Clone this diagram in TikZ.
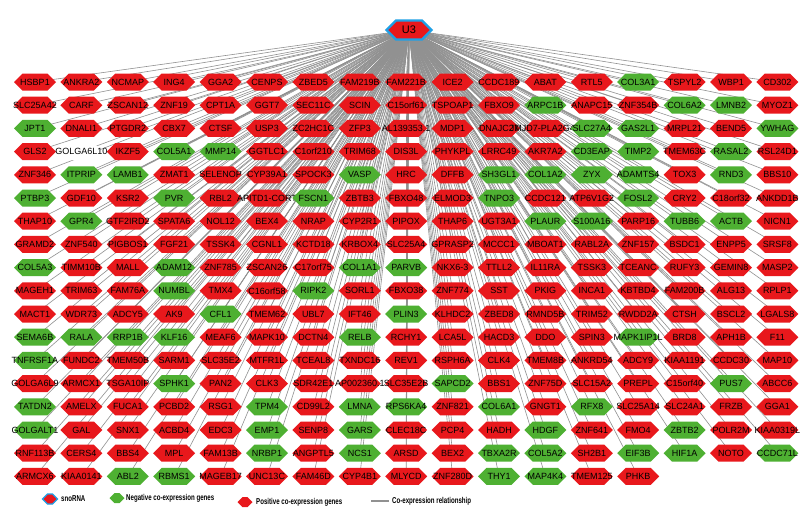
\documentclass[tikz,border=0pt]{standalone}
\usepackage{fontspec}
\usepackage{graphicx}
\setmainfont{Liberation Sans}
\usetikzlibrary{shapes.symbols}
\definecolor{hred}{RGB}{232,24,28}
\definecolor{hgreen}{RGB}{78,176,50}
\definecolor{hblue}{RGB}{30,160,230}
\definecolor{egray}{RGB}{145,145,145}
\pgfdeclarelayer{bg}
\pgfsetlayers{bg,main}
\tikzset{
  hexbase/.style={shape=signal, signal to=east and west, minimum width=42pt,
    minimum height=17pt, inner sep=0pt, font=\fontsize{9}{10}\selectfont, text=black},
  rh/.style={hexbase, fill=hred},
  gh/.style={hexbase, fill=hgreen},
  wh/.style={hexbase, fill=white},
  edge/.style={draw=egray, line width=0.6pt},
  leghex/.style={shape=signal, signal to=east and west, minimum width=15pt,
    minimum height=10pt, inner sep=0pt},
  legtext/.style={anchor=west, inner sep=0pt, font=\bfseries\fontsize{8.5}{9}\selectfont},
}
\newcommand\generow[2]{%
  \foreach \nm/\cl [count=\ci] in {#2} {%
    \node[\cl] (n-#1-\ci) at ({35+46.4*(\ci-1)}, {82+23.2*(#1-1)}) {\makebox[0pt]{\nm}};
  }%
}
\begin{document}
\begin{tikzpicture}[x=1pt, y=-1pt]
\useasboundingbox (0,0) rectangle (811,522);
\node[shape=signal, signal to=east and west, minimum width=45pt, minimum height=19pt,
  inner sep=0pt, fill=hred, draw=hblue, line width=2.2pt,
  font=\fontsize{11}{12}\selectfont] (u3) at (409,30) {U3};
\generow{1}{HSBP1/rh, ANKRA2/rh, NCMAP/rh, ING4/rh, GGA2/rh, CENPS/rh, ZBED5/rh, FAM219B/rh, FAM221B/rh, ICE2/rh, CCDC189/rh, ABAT/rh, RTL5/rh, COL3A1/gh, TSPYL2/rh, WBP1/rh, CD302/rh}
\generow{2}{SLC25A42/rh, CARF/rh, ZSCAN12/rh, ZNF19/rh, CPT1A/rh, GGT7/rh, SEC11C/rh, SCIN/rh, C15orf61/rh, TSPOAP1/rh, FBXO9/rh, ARPC1B/gh, ANAPC15/rh, ZNF354B/rh, COL6A2/gh, LMNB2/gh, MYOZ1/rh}
\generow{3}{JPT1/gh, DNALI1/rh, PTGDR2/rh, CBX7/rh, CTSF/rh, USP3/rh, ZC2HC1C/rh, ZFP3/rh, AL139353.1/rh, MDP1/rh, DNAJC27/rh, JMJD7-PLA2G4B/rh, SLC27A4/gh, GAS2L1/gh, MRPL21/rh, BEND5/rh, YWHAG/gh}
\generow{4}{GLS2/rh, GOLGA6L10/wh, IKZF5/rh, COL5A1/gh, MMP14/gh, GGTLC1/rh, C1orf210/rh, TRIM68/rh, DIS3L/rh, PHYKPL/rh, LRRC49/rh, AKR7A2/rh, CD3EAP/gh, TIMP2/gh, TMEM63C/rh, RASAL2/gh, RSL24D1/rh}
\generow{5}{ZNF346/rh, ITPRIP/gh, LAMB1/gh, ZMAT1/rh, SELENOP/rh, CYP39A1/rh, SPOCK3/rh, VASP/gh, HRC/rh, DFFB/rh, SH3GL1/gh, COL1A2/gh, ZYX/gh, ADAMTS4/gh, TOX3/rh, RND3/gh, BBS10/rh}
\generow{6}{PTBP3/gh, GDF10/rh, KSR2/rh, PVR/gh, RBL2/rh, APITD1-CORT/rh, FSCN1/gh, ZBTB3/rh, FBXO48/rh, ELMOD3/rh, TNPO3/gh, CCDC121/rh, ATP6V1G2/rh, FOSL2/gh, CRY2/rh, C18orf32/rh, ANKDD1B/rh}
\generow{7}{THAP10/rh, GPR4/gh, GTF2IRD2/rh, SPATA6/rh, NOL12/rh, BEX4/rh, NRAP/rh, CYP2R1/rh, PIPOX/rh, THAP6/rh, UGT3A1/rh, PLAUR/gh, S100A16/gh, PARP16/rh, TUBB6/gh, ACTB/gh, NICN1/rh}
\generow{8}{GRAMD2/rh, ZNF540/rh, PIGBOS1/rh, FGF21/rh, TSSK4/rh, CGNL1/rh, KCTD18/rh, KRBOX4/rh, SLC25A4/rh, GPRASP2/rh, MCCC1/rh, MBOAT1/rh, RABL2A/rh, ZNF157/rh, BSDC1/rh, ENPP5/rh, SRSF8/rh}
\generow{9}{COL5A3/gh, TIMM10B/rh, MALL/rh, ADAM12/gh, ZNF785/rh, ZSCAN26/rh, C17orf75/rh, COL1A1/gh, PARVB/gh, NKX6-3/rh, TTLL2/rh, IL11RA/rh, TSSK3/rh, TCEANC/rh, RUFY3/rh, GEMIN8/rh, MASP2/rh}
\generow{10}{MAGEH1/rh, TRIM63/rh, FAM76A/rh, NUMBL/gh, TMX4/rh, C16orf58/rh, RIPK2/gh, SORL1/rh, FBXO38/rh, ZNF774/rh, SST/rh, PKIG/rh, INCA1/rh, KBTBD4/rh, FAM200B/rh, ALG13/rh, RPLP1/rh}
\generow{11}{MACT1/rh, WDR73/rh, ADCY5/rh, AK9/rh, CFL1/gh, TMEM62/rh, UBL7/rh, IFT46/rh, PLIN3/gh, KLHDC2/rh, ZBED8/rh, RMND5B/rh, TRIM52/rh, RWDD2A/rh, CTSH/rh, BSCL2/rh, LGALS8/rh}
\generow{12}{SEMA6B/gh, RALA/gh, RRP1B/gh, KLF16/gh, MEAF6/rh, MAPK10/rh, DCTN4/rh, RELB/gh, RCHY1/rh, LCA5L/rh, HACD3/rh, DDO/rh, SPIN3/rh, MAPK1IP1L/gh, BRD8/rh, APH1B/rh, F11/rh}
\generow{13}{TNFRSF1A/gh, FUNDC2/rh, TMEM50B/rh, SARM1/rh, SLC35E2/rh, MTFR1L/rh, TCEAL8/rh, TXNDC16/rh, REV1/rh, RSPH6A/rh, CLK4/rh, TMEM8B/rh, ANKRD54/rh, ADCY9/rh, KIAA1191/rh, CCDC30/rh, MAP10/rh}
\generow{14}{GOLGA6L9/rh, ARMCX1/rh, TSGA10IP/rh, SPHK1/gh, PAN2/rh, CLK3/rh, SDR42E1/rh, AP002360.1/rh, SLC35E2B/rh, SAPCD2/gh, BBS1/rh, ZNF75D/rh, SLC15A2/rh, PREPL/rh, C15orf40/rh, PUS7/gh, ABCC6/rh}
\generow{15}{TATDN2/gh, AMELX/rh, FUCA1/rh, PCBD2/rh, RSG1/rh, TPM4/gh, CD99L2/rh, LMNA/gh, RPS6KA4/gh, ZNF821/rh, COL6A1/gh, GNGT1/rh, RFX8/gh, SLC25A14/rh, SLC24A1/rh, FRZB/rh, GGA1/rh}
\generow{16}{GOLGALT1/gh, GAL/rh, SNX1/rh, ACBD4/rh, EDC3/rh, EMP1/gh, SENP8/rh, GARS/gh, CLEC18C/rh, PCP4/rh, HADH/rh, HDGF/gh, ZNF641/rh, FMO4/rh, ZBTB2/gh, POLR2M/rh, KIAA0319L/rh}
\generow{17}{RNF113B/rh, CERS4/rh, BBS4/rh, MPL/rh, FAM13B/rh, NRBP1/gh, ANGPTL5/rh, NCS1/gh, ARSD/rh, BEX2/rh, TBXA2R/gh, COL5A2/gh, SH2B1/rh, EIF3B/gh, HIF1A/gh, NOTO/rh, CCDC71L/gh}
\generow{18}{ARMCX6/rh, KIAA0141/rh, ABL2/gh, RBMS1/gh, MAGEB17/rh, UNC13C/rh, FAM46D/rh, CYP4B1/rh, MLYCD/rh, ZNF280D/rh, THY1/gh, MAP4K4/gh, TMEM125/rh, PHKB/rh}
\begin{pgfonlayer}{bg}
  \fill[white] (0,0) rectangle (811,522);
  \foreach \r in {1,...,17} {
    \foreach \c in {1,...,17} {
      \draw[edge] (u3.center) -- (n-\r-\c.center);
    }
  }
  \foreach \c in {1,...,14} {
    \draw[edge] (u3.center) -- (n-18-\c.center);
  }
\end{pgfonlayer}
% legend
\node[leghex, fill=hred, draw=hblue, line width=1.2pt] (lg1) at (50,499) {};
\node[legtext] (lt1) at (61,499) {\scalebox{0.72}[1]{snoRNA}};
\node[leghex, fill=hgreen] (lg2) at (117,498) {};
\node[legtext] (lt2) at (126,498) {\scalebox{0.72}[1]{Negative co-expression genes}};
\node[leghex, fill=hred] (lg3) at (245,502) {};
\node[legtext] (lt3) at (256,502) {\scalebox{0.72}[1]{Positive co-expression genes}};
\coordinate (la) at (371,501);
\coordinate (lb) at (389,501);
\draw[egray, line width=1.5pt] (la) -- (lb);
\node[legtext] (lt4) at (392,501) {\scalebox{0.72}[1]{Co-expression relationship}};
\end{tikzpicture}
\end{document}
